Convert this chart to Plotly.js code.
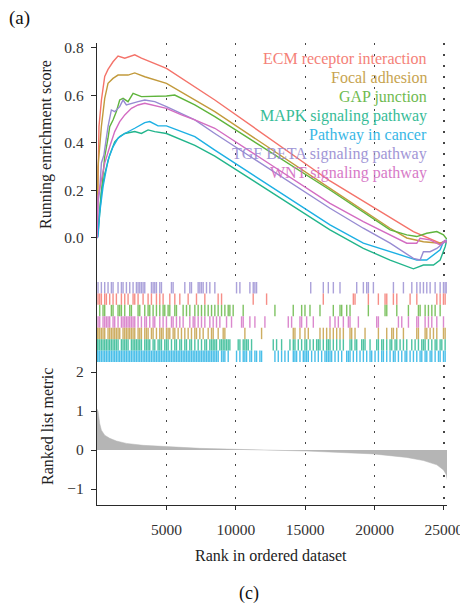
<!DOCTYPE html>
<html>
<head>
<meta charset="utf-8">
<script src="https://cdn.plot.ly/plotly-3.0.1.min.js"></script>
<style>html,body{margin:0;padding:0;background:#fff;}#chart{width:460px;height:604px;}</style>
</head>
<body>
<div id="chart"></div>
<script>
// ---------- DATA ----------
const setNames = ["ECM receptor interaction","Focal adhesion","GAP junction","MAPK signaling pathway","Pathway in cancer","TGF BETA signaling pathway","WNT signaling pathway"];
const setColors = ["#F4736A","#C29A3C","#5FB43C","#22B58C","#1DB0E4","#978BD2","#D36CC2"];

// running enrichment score: rank positions and values
const ecmRank = [0,72,144,317,556,794,1155,1515,2000,2720,3200,5005,7050,8490,16790,22320,22800,24725,25200];
const ecmES   = [0,0.35,0.47,0.58,0.68,0.71,0.742,0.766,0.757,0.771,0.757,0.714,0.637,0.581,0.24,0.041,0.027,-0.022,-0.015];
const focalRank = [0,72,317,556,794,1155,1515,2237,2720,3442,5005,7050,8490,16790,21120,22320,23520,24725,25200];
const focalES   = [0,0.30,0.47,0.588,0.651,0.672,0.686,0.686,0.695,0.679,0.651,0.581,0.532,0.209,0.041,0.0,-0.016,-0.022,-0.01];
const gapRank = [0,72,317,556,794,915,1155,1396,1636,1877,2237,2600,3200,4160,5005,5600,7050,8490,16790,21120,22320,23040,23760,24485,24965,25200];
const gapES   = [0,0.048,0.2,0.342,0.42,0.469,0.497,0.532,0.581,0.588,0.574,0.609,0.595,0.595,0.598,0.602,0.56,0.511,0.202,0.034,0.013,0.006,0.02,0.027,0.013,-0.005];
const mapkRank = [0,72,317,556,915,1276,1636,2000,2720,3200,3682,4160,5005,7050,8490,16790,19190,21120,22800,23520,24245,24725,25085,25200];
const mapkES   = [0,0.02,0.19,0.27,0.35,0.405,0.427,0.44,0.448,0.44,0.455,0.448,0.44,0.39,0.345,0.034,-0.044,-0.093,-0.13,-0.114,-0.114,-0.093,-0.037,-0.01];
const cancerRank = [0,72,195,436,794,1155,1515,2000,2720,3442,3802,4400,5005,7050,8490,16790,19190,21120,23040,23760,24245,24725,24965,25200];
const cancerES   = [0,0.005,0.105,0.216,0.328,0.384,0.42,0.44,0.462,0.486,0.49,0.472,0.472,0.427,0.37,0.055,-0.022,-0.058,-0.093,-0.093,-0.072,-0.05,-0.016,-0.008];
const tgfRank = [0,72,195,317,500,650,794,1035,1276,1636,1877,2117,2480,2960,3442,4160,5005,7050,8490,16790,19190,21120,22800,23280,23520,24000,24485,24965,25200];
const tgfES   = [0,0.147,0.2,0.316,0.35,0.42,0.469,0.539,0.532,0.553,0.581,0.56,0.567,0.574,0.581,0.574,0.553,0.497,0.44,0.125,0.041,-0.022,-0.086,-0.093,-0.058,-0.058,-0.044,-0.022,-0.01];
const wntRank = [0,72,317,556,915,1276,1636,2000,2480,2960,3442,3922,5005,6090,7050,8490,16790,19190,21120,22320,23040,23280,24000,24725,25085,25200];
const wntES   = [0,0.174,0.244,0.315,0.384,0.448,0.49,0.518,0.546,0.56,0.567,0.56,0.546,0.518,0.497,0.462,0.146,0.069,0.013,-0.022,-0.022,-0.001,-0.008,-0.029,-0.01,-0.02];

// gene hit positions (rug)
const ecmHits = [74,195,315,555,676,916,1157,1397,1758,1999,2239,2600,2720,2960,3321,3682,3922,4283,4524,4764,5245,5606,5967,6568,7169,7770,8730,8975,11256,12220,16306,18471,18593,19553,20274,20757,20880,21356,21602,22561,23045,24488,24726,24964,25086];
const focalHits = [30,75,195,315,435,556,796,916,1037,1157,1277,1397,1518,1638,1878,1999,2119,2239,2359,2480,2600,2720,2961,3081,3201,3442,3562,3682,3923,4043,4283,4524,4644,4764,5005,5125,5245,5486,5606,5847,6087,6328,6568,6809,7049,7169,7410,7650,8011,8252,8372,8732,9093,9213,10656,11859,14143,14264,14625,14986,15226,16068,16308,16548,16789,17029,17270,17510,17751,18232,18352,18593,19314,20276,20877,21238,21358,21599,22080,23042,23162,23643,23763,24004,24244,24485,24966,25086];
const gapHits = [195,435,555,1036,1157,1517,1638,1758,1999,2359,2480,2960,3081,3441,3682,3802,4043,4283,4524,4764,4884,5125,5245,5606,5726,6207,6448,6688,7049,7289,7530,7770,8011,8254,8492,8730,8975,9214,9454,9574,9812,10534,12821,14141,14747,14986,15347,16068,17028,17511,17633,17994,18232,19553,20757,20880,21602,22439,23160,23283,23644,23882,24127,24365,24726];
const mapkHits = [20,75,195,315,435,556,676,796,916,1037,1157,1277,1397,1518,1758,1878,1999,2119,2239,2480,2600,2720,2840,2961,3081,3201,3442,3562,3682,3802,4043,4163,4404,4524,4644,4885,5005,5125,5366,5606,5726,5967,6087,6328,6448,6688,6809,7049,7290,7530,7771,7891,8131,8252,8372,8492,8612,8853,8973,9093,9213,9334,9454,9574,10175,10296,10536,10656,10777,10897,11137,12701,12941,13302,13903,14144,14264,14504,14745,14985,15106,15346,15587,15827,15947,16068,16308,16549,16669,16789,17029,17270,17510,17751,18232,18352,18593,18713,19074,19194,19314,19675,20156,20276,20517,20637,20877,21118,21238,21479,21599,21839,22080,22320,22681,22922,23162,23403,23523,23643,23884,24124,24365,24485,24725,24846,25086];
const cancerHits = [20,75,195,315,435,556,676,796,916,1037,1157,1277,1397,1518,1638,1758,1878,1999,2119,2239,2359,2480,2600,2720,2840,2961,3081,3201,3322,3442,3562,3682,3802,3923,4043,4163,4283,4404,4524,4644,4764,4885,5005,5125,5245,5366,5486,5606,5726,5847,5967,6087,6207,6328,6448,6568,6688,6809,6929,7049,7169,7290,7410,7530,7650,7771,7891,8011,8131,8252,8372,8492,8612,8732,8973,9093,9213,9454,10055,10296,10536,10656,10777,11017,11137,11378,11498,11739,11859,12821,13062,13302,13542,13783,14144,14264,14384,14625,14865,14985,15106,15226,15466,15707,15947,16188,16428,16549,16669,16789,16909,17150,17390,17631,17991,18112,18232,18472,18713,18953,19194,19434,19675,19795,20036,20276,20517,20637,20877,21118,21358,21479,21719,21960,22200,22320,22561,22801,23042,23282,23403,23643,23763,24004,24124,24365,24605,24725,24966,25086];
const tgfHits = [74,315,555,796,1036,1157,1517,1758,1878,2119,2359,2600,2840,2960,3081,3201,3321,3441,3922,4043,4163,4283,4524,4644,5365,5485,6327,6688,6808,7289,7410,7530,7650,7890,8131,8492,10055,10296,11017,11258,11378,11498,15400,16308,16669,17030,17510,18713,19194,19435,19555,19916,21359,22080,22684,23045,23283,23523,23764,24004,24365,24726,24966,25086,25207];
const wntHits = [75,195,435,556,676,796,916,1157,1277,1518,1758,1878,1999,2119,2239,2359,2480,2600,2720,2961,3201,3442,3562,3802,4043,4163,4524,4764,5005,5366,5486,5726,5967,6207,6688,6929,7049,7290,7530,7771,8131,8372,8612,8853,9334,9694,10416,10536,11017,11378,12099,13783,14023,14625,14745,15106,15587,16789,17150,17390,17751,18112,18232,18833,20156,20276,21719,21960,22441,23042,23162,23643,23884,24124,24485,24966];

// ranked list metric
const metricRank  = [1,72,195,317,556,916,1400,2120,3320,5005,7410,10060,12460,15110,19910,22320,23520,24485,24965,25150,25250];
const metricValue = [1.05,1.0,0.68,0.51,0.38,0.30,0.23,0.17,0.12,0.085,0.043,0.017,0,-0.026,-0.1,-0.19,-0.27,-0.38,-0.51,-0.62,-0.77];

const rankTicks = [5000,10000,15000,20000,25000];
const rankTickText = ["5000","10000","15000","20000","25000"];
const esTicks = [0,0.2,0.4,0.6,0.8];
const esTickText = ["0.0","0.2","0.4","0.6","0.8"];
const metricTicks = [-1,0,1,2];
const metricTickText = ["\u22121","0","1","2"];

// rug row order from top to bottom
const rugOrder = [5,0,2,6,1,3,4];

// ---------- BUILD ----------
const esRanks = [ecmRank,focalRank,gapRank,mapkRank,cancerRank,tgfRank,wntRank];
const esVals  = [ecmES,focalES,gapES,mapkES,cancerES,tgfES,wntES];
const hits    = [ecmHits,focalHits,gapHits,mapkHits,cancerHits,tgfHits,wntHits];

const traces = [];
traces.push({x:metricRank, y:metricValue, type:'scatter', mode:'lines', fill:'tozeroy',
  fillcolor:'#B5B5B5', line:{color:'#B5B5B5', width:0.5}, xaxis:'x', yaxis:'y', hoverinfo:'skip'});
rugOrder.forEach((si, k) => {
  const row = 6 - k;
  const xs = [], ys = [];
  hits[si].forEach(p => { xs.push(p, p, null); ys.push(row - 0.5, row + 0.5, null); });
  traces.push({x:xs, y:ys, type:'scatter', mode:'lines', line:{color:setColors[si], width:1.4},
    opacity:0.8, xaxis:'x3', yaxis:'y3', hoverinfo:'skip', connectgaps:false});
});
for (let i = 0; i < setNames.length; i++) {
  traces.push({x:esRanks[i], y:esVals[i], type:'scatter', mode:'lines', name:setNames[i],
    line:{color:setColors[i], width:1.4}, xaxis:'x2', yaxis:'y2'});
}

const L = 97, R = 447, T = 43, B = 505;
const px = v => (v - L) / (R - L);
const py = v => (B - v) / (B - T);

const FONT = 'Liberation Serif';
const gridDash = '1.5px,9.5px';
const xr = [0, 25220];

const annotations = [];
setNames.forEach((n, i) => {
  annotations.push({text:n, xref:'paper', yref:'paper', x:px(429), y:py(58.5 + i * 19.1),
    xanchor:'right', yanchor:'middle', showarrow:false,
    font:{family:FONT, size:16, color:setColors[i]}, opacity:0.9});
});
annotations.push({text:'Running enrichment score', xref:'paper', yref:'paper', x:px(46), y:py(145),
  textangle:-90, showarrow:false, xanchor:'center', yanchor:'middle', font:{family:FONT, size:16, color:'#222'}});
annotations.push({text:'Ranked list metric', xref:'paper', yref:'paper', x:px(47), y:py(427),
  textangle:-90, showarrow:false, xanchor:'center', yanchor:'middle', font:{family:FONT, size:16, color:'#222'}});
annotations.push({text:'Rank in ordered dataset', xref:'paper', yref:'paper', x:px(271), y:py(555),
  showarrow:false, xanchor:'center', yanchor:'middle', font:{family:FONT, size:16, color:'#222'}});
annotations.push({text:'(a)', xref:'paper', yref:'paper', x:px(7), y:py(18),
  showarrow:false, xanchor:'left', yanchor:'middle', font:{family:FONT, size:19, color:'#111'}});
annotations.push({text:'(c)', xref:'paper', yref:'paper', x:px(249), y:py(593),
  showarrow:false, xanchor:'center', yanchor:'middle', font:{family:FONT, size:18, color:'#111'}});

const axLine = {showline:true, linecolor:'#2a2a2a', linewidth:1.2, zeroline:false};
const tickFont = {family:FONT, size:15.5, color:'#333'};

const layout = {
  width:460, height:604,
  margin:{l:L, r:460 - R, t:T, b:604 - B, pad:0},
  paper_bgcolor:'#fff', plot_bgcolor:'rgba(0,0,0,0)',
  showlegend:false,
  font:{family:FONT},
  xaxis:Object.assign({}, axLine, {domain:[0,1], anchor:'y', range:xr, tickvals:rankTicks, ticktext:rankTickText,
    ticks:'outside', ticklen:4, tickcolor:'#2a2a2a', tickfont:tickFont, ticklabelstandoff:6,
    ticklabeloverflow:'allow',
    showgrid:true, gridcolor:'#444', gridwidth:1.2, griddash:gridDash}),
  yaxis:Object.assign({}, axLine, {domain:[0, py(365)], anchor:'x', range:[-1.41, 2.18],
    tickvals:metricTicks, ticktext:metricTickText, ticks:'outside', ticklen:5, tickcolor:'#2a2a2a',
    tickfont:tickFont, ticklabelstandoff:4, showgrid:false}),
  xaxis2:{domain:[0,1], anchor:'y2', range:xr, tickvals:rankTicks, showticklabels:false, ticks:'',
    showline:false, zeroline:false, showgrid:true, gridcolor:'#444', gridwidth:1.2, griddash:gridDash},
  yaxis2:Object.assign({}, axLine, {domain:[py(280), 1], anchor:'x2', range:[-0.177, 0.821],
    tickvals:esTicks, ticktext:esTickText, ticks:'outside', ticklen:5, tickcolor:'#2a2a2a',
    tickfont:tickFont, ticklabelstandoff:4, showgrid:false}),
  xaxis3:{domain:[0,1], anchor:'y3', range:xr, showticklabels:false, ticks:'', showline:false,
    zeroline:false, showgrid:false},
  yaxis3:Object.assign({}, axLine, {domain:[py(365), py(280)], anchor:'x3', range:[-0.76, 6.675],
    showticklabels:false, ticks:'', showgrid:false}),
  annotations:annotations
};

Plotly.newPlot('chart', traces, layout, {staticPlot:true, displayModeBar:false});
</script>
</body>
</html>
